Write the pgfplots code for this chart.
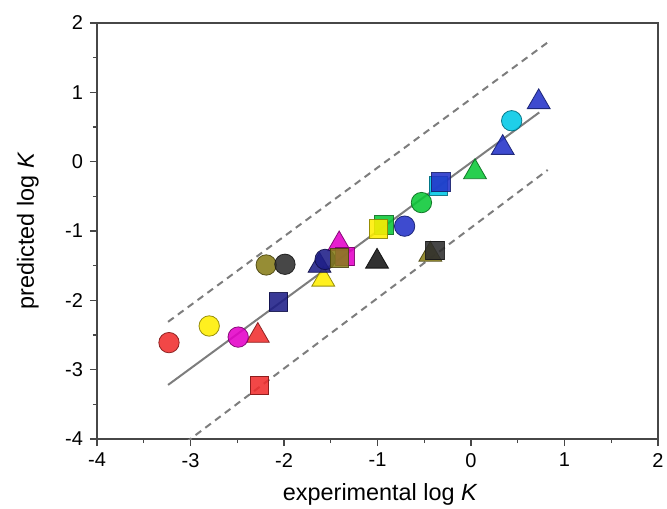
\documentclass[border=0pt]{standalone}
\usepackage{fontspec}
\setmainfont{Liberation Sans}
\usepackage{pgfplots}
\pgfplotsset{compat=1.18}
\definecolor{cred}{RGB}{240,45,45}
\definecolor{cyel}{RGB}{255,238,0}
\definecolor{cmag}{RGB}{228,0,200}
\definecolor{cnavy}{RGB}{30,30,135}
\definecolor{colive}{RGB}{135,125,25}
\definecolor{cdgray}{RGB}{45,45,45}
\definecolor{cblue}{RGB}{35,50,200}
\definecolor{cgreen}{RGB}{10,200,55}
\definecolor{ccyan}{RGB}{0,200,230}
\definecolor{cblack}{RGB}{20,20,20}
\definecolor{lgray}{RGB}{125,125,125}
\pgfplotsset{
  mk/.style 2 args={only marks, mark=#1, mark options={fill=#2, draw=#2!55!black, fill opacity=0.88, draw opacity=0.9, line width=0.4pt}},
  circ/.style={mk={*}{#1}, mark size=5.1pt},
  tri/.style={mk={triangle*}{#1}, mark size=6.6pt},
  sq/.style={mk={square*}{#1}, mark size=4.6pt},
}
\begin{document}
\begin{tikzpicture}
\begin{axis}[
  at={(0,0)}, anchor=south west,
  scale only axis, width=280.5pt, height=208pt,
  xmin=-4, xmax=2, ymin=-4, ymax=2,
  xtick={-4,-3,-2,-1,0,1,2}, ytick={-4,-3,-2,-1,0,1,2},
  minor tick num=1,
  tick align=outside, xtick pos=left, ytick pos=left,
  major tick length=3.5pt, minor tick length=2pt,
  axis line style={draw=black!72, line width=0.8pt},
  every tick/.style={draw=black!72, line width=0.7pt},
  tick label style={font=\fontsize{10}{12}\selectfont},
  /pgf/number format/assume math mode=true,
  xlabel={experimental log \textit{K}},
  ylabel={predicted log \textit{K}},
  label style={font=\fontsize{11.7}{14}\selectfont},
  xlabel style={at={(axis description cs:0.505,-0.149)}, anchor=base},
  ylabel style={at={(axis description cs:-0.1123,0.5)}, anchor=base},
  clip=true,
]
% lines
\addplot[lgray, line width=1pt] coordinates {(-3.24,-3.22) (0.73,0.71)};
\addplot[lgray, line width=1pt, dash pattern=on 3.5pt off 2.6pt] coordinates {(-3.24,-2.31) (0.82,1.72)};
\addplot[lgray, line width=1pt, dash pattern=on 3.5pt off 2.6pt] coordinates {(-3.05,-4.05) (0.82,-0.12)};
% triangles
\addplot[tri=cred] coordinates {(-2.28,-2.51)};
\addplot[tri=cyel] coordinates {(-1.58,-1.70)};
\addplot[tri=cnavy] coordinates {(-1.62,-1.50)};
\addplot[tri=cmag] coordinates {(-1.41,-1.19)};
\addplot[tri=cblack] coordinates {(-1.005,-1.44)};
\addplot[tri=colive] coordinates {(-0.435,-1.34)};
\addplot[tri=cgreen] coordinates {(0.043,-0.15)};
\addplot[tri=cblue] coordinates {(0.339,0.20) (0.724,0.86)};
% circles
\addplot[circ=cred] coordinates {(-3.23,-2.61)};
\addplot[circ=cyel] coordinates {(-2.80,-2.37)};
\addplot[circ=cmag] coordinates {(-2.49,-2.53)};
\addplot[circ=colive] coordinates {(-2.19,-1.49)};
\addplot[circ=cdgray] coordinates {(-1.99,-1.48)};
\addplot[circ=cnavy] coordinates {(-1.56,-1.41)};
\addplot[circ=cblue] coordinates {(-0.71,-0.93)};
\addplot[circ=cgreen] coordinates {(-0.53,-0.59)};
\addplot[circ=ccyan] coordinates {(0.435,0.59)};
% squares
\addplot[sq=cred] coordinates {(-2.26,-3.23)};
\addplot[sq=cnavy] coordinates {(-2.06,-2.02)};
\addplot[sq=cmag] coordinates {(-1.35,-1.37)};
\addplot[sq=colive] coordinates {(-1.41,-1.39)};
\addplot[sq=cgreen] coordinates {(-0.93,-0.91)};
\addplot[sq=cyel] coordinates {(-0.99,-0.97)};
\addplot[sq=ccyan] coordinates {(-0.35,-0.35)};
\addplot[sq=cblue] coordinates {(-0.32,-0.29)};
\addplot[sq=cdgray] coordinates {(-0.385,-1.28)};
\end{axis}
\pgfresetboundingbox
\path (-48.5pt,-34.5pt) rectangle (285pt,219.5pt);
\end{tikzpicture}
\end{document}
